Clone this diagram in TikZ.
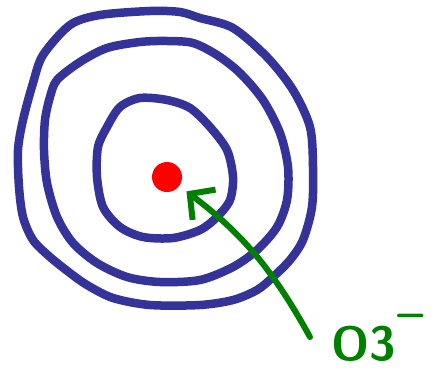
\documentclass[tikz,border=0pt]{standalone}
\usepackage{tikz}
\usetikzlibrary{arrows.meta}
\definecolor{ringblue}{RGB}{51,51,153}
\definecolor{arrowgreen}{RGB}{0,128,0}
\begin{document}
\begin{tikzpicture}[
        % 1 单位 = 1pt，y 轴向下，与原图像素对应
        x=1pt, y=-1pt,
        ring/.style={draw=ringblue, line width=8.5pt, line cap=round, line join=round},
        pointer/.style={draw=arrowgreen, line width=6pt, line cap=round,
            -{Straight Barb[length=18pt, width=38pt, line width=6pt]}},
        ion/.style={text=arrowgreen, font=\fontsize{48}{48}\selectfont\sffamily\bfseries, inner sep=0pt}
    ]
    % 画布大小
    \useasboundingbox (0,0) rectangle (435,369);

    % --- 外圈 ---
    \draw[ring] plot[smooth cycle] coordinates {
        (43,55) (70,25) (100,15) (150,11) (180,12) (200,18) (233,28)
        (267,57) (293,90) (310,127) (313,167) (312,207) (303,240)
        (290,260) (273,277) (257,290) (233,300) (200,305) (150,305)
        (113,298) (87,285) (70,273) (50,257) (33,240) (23,217)
        (19,187) (18,150) (23,120) (33,83)};

    % --- 中圈 ---
    \draw[ring] plot[smooth cycle] coordinates {
        (57,80) (80,62) (107,48) (140,42) (167,41) (193,43) (217,55)
        (240,73) (263,100) (280,133) (288,167) (287,200) (277,227)
        (257,250) (233,267) (200,280) (160,282) (127,277) (97,263)
        (73,243) (57,217) (47,183) (44,150) (45,120) (50,97)};

    % --- 内圈 ---
    \draw[ring] plot[smooth cycle] coordinates {
        (120,107) (140,98) (167,100) (190,108) (210,127) (227,150)
        (233,177) (230,200) (217,217) (200,230) (173,238) (143,237)
        (120,227) (103,207) (97,177) (98,147) (107,127)};

    % --- 中心红点 ---
    \node[circle, fill=red, minimum size=30pt, inner sep=0pt] (dot) at (167,177) {};

    % --- 标注与箭头 ---
    \node[ion, anchor=base west] (lbl) at (331,360) {O3\kern2pt\raisebox{0.64em}{\textendash}};
    \coordinate (tail) at (310,337);
    \draw[pointer, shorten >=9pt] (tail) to[bend right=12] (dot);

\end{tikzpicture}
\end{document}
